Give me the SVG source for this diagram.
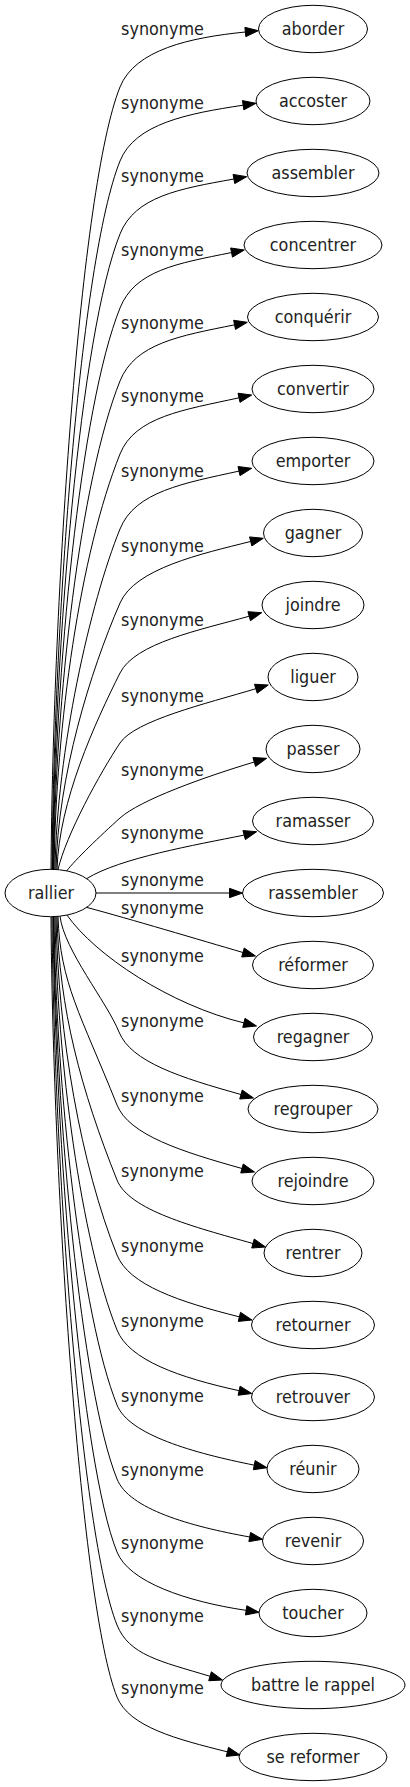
<svg xmlns="http://www.w3.org/2000/svg" width="410" height="1787" viewBox="0 0 410 1787">
<style>
text{font-family:"DejaVu Sans Condensed","DejaVu Sans",sans-serif;font-stretch:condensed;font-size:17.8px;fill:#222;text-anchor:middle}
ellipse{fill:none;stroke:#000;stroke-width:1}
#edges path{fill:none;stroke:#000;stroke-width:1}
#edges polygon{fill:#000;stroke:#000;stroke-width:1}
</style>
<rect width="410" height="1787" fill="#fff"/>
<g id="edges">
<path d="M51,869.5 C53,595.6 80,187 120,87 C135,49.5 190.4,37.5 245.4,32"/><polygon points="258.3,30.7 245.82,36.64 244.9,27.34"/>
<path d="M52,869.5 C54,621.5 80,261 120,161 C135,123.5 188.1,113.5 243.1,105.2"/><polygon points="256,103.3 243.83,109.85 242.45,100.61"/>
<path d="M52.5,869.5 C54.5,647.1 80,334 120,234 C135,196.5 178.9,188.9 233.9,179"/><polygon points="246.7,176.7 234.74,183.6 233.08,174.4"/>
<path d="M53,869.5 C55,673 80,408 120,308 C135,270.5 176.55,263.55 231.55,252.55"/><polygon points="244.3,250 232.47,257.13 230.63,247.97"/>
<path d="M53.5,869.5 C55.5,698.5 80,481 120,381 C135,343.5 179.55,335.85 234.55,324.85"/><polygon points="247.3,322.3 235.47,329.43 233.63,320.27"/>
<path d="M54,869.5 C56,724.1 80,554 120,454 C135,416.5 184,409.9 239,397.8"/><polygon points="251.7,395 240,402.35 238,393.23"/>
<path d="M55,869.5 C57,750.3 90,603 120,529 C135,491.5 184,483.2 239,471.1"/><polygon points="251.7,468.3 240,475.65 238,466.53"/>
<path d="M56,869.5 C58,776.2 90,672 120,603 C135,568.5 200.7,554 250.7,541.45"/><polygon points="263.3,538.3 251.82,545.98 249.56,536.92"/>
<path d="M57,869.6 C59,800.8 95,723 120,673 C135,643 199.2,630.2 249.2,616.2"/><polygon points="261.7,612.7 250.44,620.7 247.92,611.7"/>
<path d="M58,869.6 C66,835 100,773 120,743 C135,720.5 205.85,703.7 255.85,688.7"/><polygon points="268.3,685 257.19,693.2 254.51,684.26"/>
<path d="M66.7,870.9 C75,860 100,836 120,818 C140,800 204.25,777 254.25,762"/><polygon points="266.7,758.3 255.59,766.5 252.91,757.56"/>
<path d="M86.7,878.6 C120,858 195,845 244.15,835.1"/><polygon points="256.7,831.7 245.37,839.6 242.93,830.58"/>
<path d="M96,893 L229.5,893"/><polygon points="242.5,893 229.5,897.67 229.5,888.33"/>
<path d="M86.7,907.4 C130,919 200,940 243,952.5"/><polygon points="255.5,956 244.24,948 241.72,957"/>
<path d="M67,915.1 C95,955 170,1005 243.9,1022.9"/><polygon points="256.5,1026 245.02,1018.32 242.76,1027.38"/>
<path d="M60,916.2 C64,950 107,1002 119,1032 C131,1062 180.98,1077.7 240.98,1094.5"/><polygon points="253.5,1098 242.24,1090 239.72,1099"/>
<path d="M58,916.4 C60,982.8 81,1015 117,1105 C129,1135 181.98,1151.7 241.98,1168.5"/><polygon points="254.5,1172 243.24,1164 240.72,1173"/>
<path d="M57,916.5 C59,1008.7 81,1090 117,1180 C129,1210 192.98,1226.7 252.98,1243.5"/><polygon points="265.5,1247 254.24,1239 251.72,1248"/>
<path d="M56,916.6 C58,1035 81,1165 117,1255 C129,1285 179.39,1301.85 239.39,1316.85"/><polygon points="252,1320 240.52,1312.32 238.26,1321.38"/>
<path d="M55,916.7 C57,1061.4 81,1240 117,1330 C129,1360 179.1,1377.5 239.1,1390.7"/><polygon points="251.8,1393.5 240.1,1386.15 238.1,1395.27"/>
<path d="M54,916.8 C56,1087.7 81,1315 117,1405 C129,1435 194.25,1453.15 254.25,1465.15"/><polygon points="267,1467.7 255.17,1460.57 253.33,1469.73"/>
<path d="M53.5,916.8 C55.5,1113.6 81,1389 117,1479 C129,1509 189.71,1526.2 249.71,1537"/><polygon points="262.5,1539.3 250.54,1532.4 248.88,1541.6"/>
<path d="M53,916.9 C55,1139.2 81,1462 117,1552 C129,1582 186.14,1601.4 246.14,1610.37"/><polygon points="259,1612.3 246.83,1605.75 245.45,1614.99"/>
<path d="M52,917 C54,1164.8 81,1535 117,1625 C129,1655 160.05,1661.3 210.05,1676.27"/><polygon points="222.5,1680 211.39,1671.8 208.71,1680.74"/>
<path d="M51,917 C53,1189 81,1607 117,1697 C129,1727 177.39,1739.35 227.39,1751.85"/><polygon points="240,1755 228.52,1747.32 226.26,1756.38"/>
<text x="162.5" y="35">synonyme</text>
<text x="162.5" y="109">synonyme</text>
<text x="162.5" y="182">synonyme</text>
<text x="162.5" y="256">synonyme</text>
<text x="162.5" y="329">synonyme</text>
<text x="162.5" y="402">synonyme</text>
<text x="162.5" y="477">synonyme</text>
<text x="162.5" y="552">synonyme</text>
<text x="162.5" y="626">synonyme</text>
<text x="162.5" y="702">synonyme</text>
<text x="162.5" y="776">synonyme</text>
<text x="162.5" y="839">synonyme</text>
<text x="162.5" y="886">synonyme</text>
<text x="162.5" y="914">synonyme</text>
<text x="162.5" y="962">synonyme</text>
<text x="162.5" y="1027">synonyme</text>
<text x="162.5" y="1102">synonyme</text>
<text x="162.5" y="1177">synonyme</text>
<text x="162.5" y="1252">synonyme</text>
<text x="162.5" y="1327">synonyme</text>
<text x="162.5" y="1402">synonyme</text>
<text x="162.5" y="1476">synonyme</text>
<text x="162.5" y="1549">synonyme</text>
<text x="162.5" y="1622">synonyme</text>
<text x="162.5" y="1694">synonyme</text>
</g>
<g id="rallier"><ellipse cx="50.5" cy="893" rx="45.5" ry="23.7"/><text x="51" y="899">rallier</text></g>
<g id="aborder"><ellipse cx="313" cy="29" rx="54.5" ry="23.7"/><text x="313" y="35">aborder</text></g>
<g id="accoster"><ellipse cx="313" cy="101" rx="57" ry="23.7"/><text x="313" y="107">accoster</text></g>
<g id="assembler"><ellipse cx="313" cy="173" rx="66" ry="23.7"/><text x="313" y="179">assembler</text></g>
<g id="concentrer"><ellipse cx="313" cy="245" rx="69" ry="23.7"/><text x="313" y="251">concentrer</text></g>
<g id="conquerir"><ellipse cx="313" cy="317" rx="65.5" ry="23.7"/><text x="313" y="323">conquérir</text></g>
<g id="convertir"><ellipse cx="313" cy="389" rx="61" ry="23.7"/><text x="313" y="395">convertir</text></g>
<g id="emporter"><ellipse cx="313" cy="461" rx="61" ry="23.7"/><text x="313" y="467">emporter</text></g>
<g id="gagner"><ellipse cx="313" cy="533" rx="49.5" ry="23.7"/><text x="313" y="539">gagner</text></g>
<g id="joindre"><ellipse cx="313" cy="605" rx="51" ry="23.7"/><text x="313" y="611">joindre</text></g>
<g id="liguer"><ellipse cx="313" cy="677" rx="45" ry="23.7"/><text x="313" y="683">liguer</text></g>
<g id="passer"><ellipse cx="313" cy="749" rx="47" ry="23.7"/><text x="313" y="755">passer</text></g>
<g id="ramasser"><ellipse cx="313" cy="821" rx="60.5" ry="23.7"/><text x="313" y="827">ramasser</text></g>
<g id="rassembler"><ellipse cx="313" cy="893" rx="70.5" ry="23.7"/><text x="313" y="899">rassembler</text></g>
<g id="reformer"><ellipse cx="313" cy="965" rx="60.5" ry="23.7"/><text x="313" y="971">réformer</text></g>
<g id="regagner"><ellipse cx="313" cy="1037" rx="59.5" ry="23.7"/><text x="313" y="1043">regagner</text></g>
<g id="regrouper"><ellipse cx="313" cy="1109" rx="65" ry="23.7"/><text x="313" y="1115">regrouper</text></g>
<g id="rejoindre"><ellipse cx="313" cy="1181" rx="61" ry="23.7"/><text x="313" y="1187">rejoindre</text></g>
<g id="rentrer"><ellipse cx="313" cy="1253" rx="49" ry="23.7"/><text x="313" y="1259">rentrer</text></g>
<g id="retourner"><ellipse cx="313" cy="1325" rx="61.5" ry="23.7"/><text x="313" y="1331">retourner</text></g>
<g id="retrouver"><ellipse cx="313" cy="1397" rx="61.5" ry="23.7"/><text x="313" y="1403">retrouver</text></g>
<g id="reunir"><ellipse cx="313" cy="1469" rx="46" ry="23.7"/><text x="313" y="1475">réunir</text></g>
<g id="revenir"><ellipse cx="313" cy="1541" rx="50.5" ry="23.7"/><text x="313" y="1547">revenir</text></g>
<g id="toucher"><ellipse cx="313" cy="1613" rx="54" ry="23.7"/><text x="313" y="1619">toucher</text></g>
<g id="battre-le-rappel"><ellipse cx="313" cy="1685" rx="92" ry="23.7"/><text x="313" y="1691">battre le rappel</text></g>
<g id="se-reformer"><ellipse cx="313" cy="1757" rx="74" ry="23.7"/><text x="313" y="1763">se reformer</text></g>
</svg>
